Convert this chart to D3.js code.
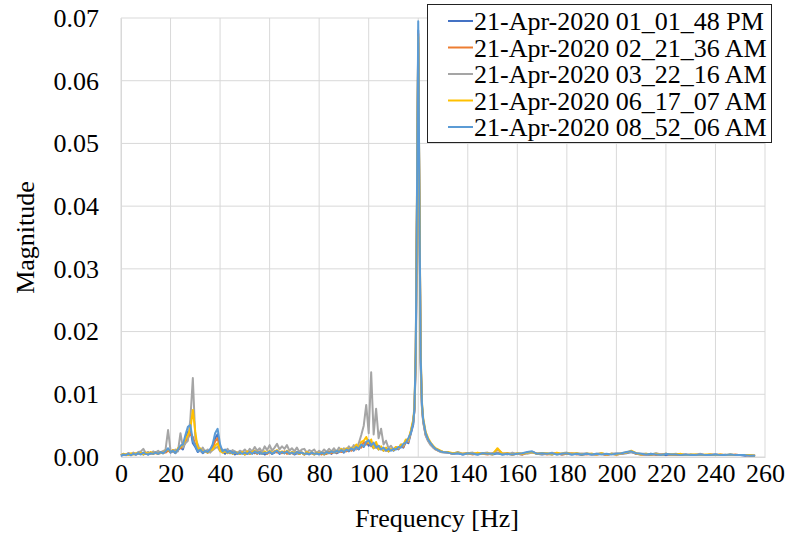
<!doctype html>
<html lang="en">
  <head>
    <title>Magnitude spectrum</title>
    <style>
      body {
        margin: 0;
        background: #fff;
      }
      svg text {
        font-family: "Liberation Serif", "Times New Roman", serif;
        fill: #000;
      }
    </style>
  </head>
  <body>
    <div id="chart"></div>

    <script src="https://cdn.jsdelivr.net/npm/d3@7"></script>
    <script>
      // frequency bins [Hz]
      const freq = [
        0,1,2,3,4,5,6,7,8,9,10,11,12,13,14,15,16,17,18,19,
        20,21,22,23,24,25,26,27,28,29,30,31,32,33,34,35,36,37,38,39,
        40,41,42,43,44,45,46,47,48,49,50,51,52,53,54,55,56,57,58,59,
        60,61,62,63,64,65,66,67,68,69,70,71,72,73,74,75,76,77,78,79,
        80,81,82,83,84,85,86,87,88,89,90,91,92,93,94,95,96,97,98,99,
        100,101,102,103,104,105,106,107,108,109,110,111,112,113,114,115,116,117,118,
        118.5,119,119.5,120,120.5,121,121.5,
        122,123,124,125,126,127,128,129,130,
        132,134,136,138,140,142,144,146,148,150,
        152,154,156,158,160,162,164,166,168,170,
        172,174,176,178,180,182,184,186,188,190,
        192,194,196,198,200,202,204,206,208,210,
        212,214,216,218,220,222,224,226,228,230,
        232,234,236,238,240,242,244,246,248,250,
        252,254,256
      ]

      // magnitudes, in units of 0.0001
      const s1 = [
        2,4,3,5,3,6,4,5,7,4, 6,4,7,5,8,5,7,6,9,12,
        7,9,6,11,15,12,26,40,44,22, 16,8,11,6,9,7,12,16,30,36,
        14,9,5,10,6,8,4,7,5,8, 4,7,5,8,6,9,5,7,4,6,
        8,5,7,9,5,8,6,9,5,7, 4,6,5,7,4,6,5,7,4,6,
        5,7,4,6,8,5,9,6,8,10, 7,11,9,13,10,15,12,19,16,24,
        18,22,14,19,12,15,10,13,9,12, 10,14,12,17,15,24,22,37,52,
        78,165,410,680,395,150,82,
        58,36,27,21,16,13,11,9,8,
        7,5,6,4,6,5,4,6,5,4, 6,4,5,4,5,4,7,8,5,4,
        5,4,6,4,5,4,5,3,5,4, 4,5,3,5,4,5,6,8,5,4,
        4,3,5,4,3,4,3,4,3,4, 3,4,3,3,4,3,3,4,3,3, 2,3,2
      ]
      const s2 = [
        3,5,3,6,4,5,4,7,5,6, 5,7,5,8,6,5,8,9,7,10,
        8,11,9,12,14,16,24,30,38,32, 20,10,12,8,9,7,11,15,25,30,
        15,8,10,7,9,6,8,5,8,6, 7,5,8,6,8,5,9,6,7,5,
        8,6,9,7,8,6,9,5,7,6, 5,8,5,7,4,7,5,6,5,7,
        6,4,7,5,8,6,9,7,10,8, 11,9,13,10,14,12,17,15,24,20,
        25,17,21,15,18,12,14,10,13,11, 12,15,13,18,16,26,24,40,56,
        76,160,400,675,390,155,80,
        57,35,26,20,16,12,10,9,8,
        7,5,7,5,6,4,6,5,4,6, 7,5,6,4,5,4,7,8,5,6,
        4,5,6,4,5,6,4,5,4,5, 4,5,3,5,4,5,7,9,5,4,
        4,5,3,4,5,3,4,3,4,3, 3,4,3,4,3,4,3,3,4,3, 3,2,2
      ]
      const s3 = [
        3,5,4,6,4,7,5,8,9,13, 6,8,5,9,7,10,6,9,12,43,
        10,8,12,9,38,15,22,26,60,126, 30,20,9,15,8,12,7,11,14,16,
        9,12,8,13,7,11,9,6,10,8, 12,7,13,9,16,10,14,8,17,11,
        19,10,15,21,12,17,13,19,10,14, 9,15,8,12,13,7,11,9,12,6,
        10,7,12,8,13,9,14,8,15,10, 14,11,17,12,19,13,22,35,50,83,
        38,135,36,77,30,45,20,26,14,18, 12,16,14,20,18,26,25,40,58,
        74,150,380,660,370,140,78,
        55,34,25,19,15,12,10,8,7,
        7,5,8,5,6,7,5,6,7,5, 12,6,4,7,5,6,5,7,5,6,
        5,7,4,6,7,5,6,5,6,4, 5,6,4,5,6,5,7,8,6,5,
        5,4,6,4,5,4,5,4,4,3, 4,5,3,4,4,3,4,3,3,3, 3,3,2
      ]
      const s4 = [
        3,5,4,3,6,4,6,5,7,4, 7,5,8,5,7,5,8,6,10,12,
        8,11,7,14,16,20,28,35,45,75, 40,12,14,8,10,7,11,12,18,22,
        10,7,10,6,9,5,8,7,5,8, 4,9,5,8,10,6,8,5,9,6,
        10,6,9,11,7,9,6,10,5,8, 6,8,5,7,4,8,5,7,4,7,
        5,7,4,8,6,9,7,10,8,13, 9,14,11,15,12,20,14,24,26,32,
        22,28,14,24,12,17,10,15,9,13, 11,16,14,20,19,28,27,42,60,
        82,175,430,670,410,165,88,
        62,40,30,23,18,14,12,10,8,
        8,6,7,5,6,5,7,5,6,4, 14,5,6,4,6,5,7,8,5,6,
        6,4,7,5,6,5,6,4,5,5, 4,6,4,5,4,6,7,10,6,4,
        5,4,5,3,5,4,4,5,3,4, 4,3,4,4,3,4,3,4,3,3, 3,3,2
      ]
      const s5 = [
        2,4,3,5,3,5,4,6,4,7, 5,4,6,5,7,5,8,6,9,14,
        8,10,7,12,18,20,35,48,51,26, 18,9,12,7,10,8,12,20,38,45,
        20,9,12,7,10,6,8,5,7,5, 7,5,8,5,9,6,8,5,7,6,
        9,5,8,10,6,8,6,9,5,7, 5,8,6,7,5,6,4,7,5,6,
        4,7,5,8,6,9,7,10,8,11, 8,12,10,14,11,16,13,20,17,24,
        27,18,23,15,18,12,15,10,13,10, 13,12,16,15,21,23,30,38,55,
        80,170,420,695,400,160,85,
        60,38,28,22,17,13,11,9,8,
        7,5,6,4,6,5,4,6,5,5, 6,4,5,4,5,6,8,9,5,6,
        5,6,4,5,6,4,5,4,5,4, 5,4,5,4,5,6,8,9,6,5,
        4,5,4,3,5,4,4,3,4,3, 3,4,3,3,4,3,3,4,3,3, 3,2,2
      ]

      const seriesNames = [
        '21-Apr-2020 01_01_48 PM',
        '21-Apr-2020 02_21_36 AM',
        '21-Apr-2020 03_22_16 AM',
        '21-Apr-2020 06_17_07 AM',
        '21-Apr-2020 08_52_06 AM'
      ]
      const seriesColors = ['#4472C4', '#ED7D31', '#A5A5A5', '#FFC000', '#5B9BD5']
      const xTicks = [0, 20, 40, 60, 80, 100, 120, 140, 160, 180, 200, 220, 240, 260]
      const yTicks = [0, 0.01, 0.02, 0.03, 0.04, 0.05, 0.06, 0.07]

      const width = 789
      const height = 533
      const margin = { top: 18, right: 24, bottom: 76, left: 121 }
      const fontSize = 26

      const series = [s1, s2, s3, s4, s5].map((vals, i) => ({
        name: seriesNames[i],
        color: seriesColors[i],
        points: vals.map((v, j) => ({ f: freq[j], m: v / 10000 }))
      }))

      const x = d3.scaleLinear()
        .domain([0, 260])
        .range([margin.left, width - margin.right])
      const y = d3.scaleLinear()
        .domain([0, 0.07])
        .range([height - margin.bottom, margin.top])

      const svg = d3.select('#chart')
        .append('svg')
        .attr('width', width)
        .attr('height', height)

      // grid
      svg.append('g').selectAll('line')
        .data(yTicks)
        .enter()
        .append('line')
          .attr('x1', x(0)).attr('x2', x(260))
          .attr('y1', d => y(d)).attr('y2', d => y(d))
          .attr('stroke', '#d9d9d9')
      svg.append('g').selectAll('line')
        .data(xTicks)
        .enter()
        .append('line')
          .attr('x1', d => x(d)).attr('x2', d => x(d))
          .attr('y1', y(0)).attr('y2', y(0.07))
          .attr('stroke', '#d9d9d9')

      // axes
      const xAxis = svg.append('g')
        .attr('transform', `translate(0,${y(0)})`)
        .call(d3.axisBottom(x).tickValues(xTicks).tickSize(0).tickPadding(7))
      const yAxis = svg.append('g')
        .attr('transform', `translate(${x(0)},0)`)
        .call(d3.axisLeft(y).tickValues(yTicks).tickFormat(d3.format('.2f')).tickSize(0).tickPadding(22))
      ;[xAxis, yAxis].forEach(g => {
        g.select('.domain').attr('stroke', '#d9d9d9')
        g.selectAll('text').attr('font-size', fontSize)
      })

      // lines
      const line = d3.line()
        .x(d => x(d.f))
        .y(d => y(d.m))
      svg.append('g').selectAll('path')
        .data(series)
        .enter()
        .append('path')
          .attr('d', d => line(d.points))
          .attr('fill', 'none')
          .attr('stroke', d => d.color)
          .attr('stroke-width', 2)
          .attr('stroke-linejoin', 'round')

      // axis titles
      svg.append('text')
        .attr('x', 437)
        .attr('y', 527)
        .attr('text-anchor', 'middle')
        .attr('font-size', fontSize)
        .text('Frequency [Hz]')
      svg.append('text')
        .attr('transform', `translate(34,${(y(0) + y(0.07)) / 2}) rotate(-90)`)
        .attr('text-anchor', 'middle')
        .attr('font-size', fontSize)
        .text('Magnitude')

      // legend
      const legend = svg.append('g')
      legend.append('rect')
        .attr('x', 427.5).attr('y', 4.5)
        .attr('width', 344).attr('height', 138)
        .attr('fill', '#fff')
        .attr('stroke', '#222')
      const items = legend.selectAll('g')
        .data(series)
        .enter()
        .append('g')
          .attr('transform', (d, i) => `translate(0,${21 + i * 26.5})`)
      items.append('line')
        .attr('x1', 448).attr('x2', 473)
        .attr('stroke', d => d.color)
        .attr('stroke-width', 2)
      items.append('text')
        .attr('x', 474)
        .attr('dy', '0.35em')
        .attr('font-size', fontSize)
        .text(d => d.name)
    </script>
  </body>
</html>
